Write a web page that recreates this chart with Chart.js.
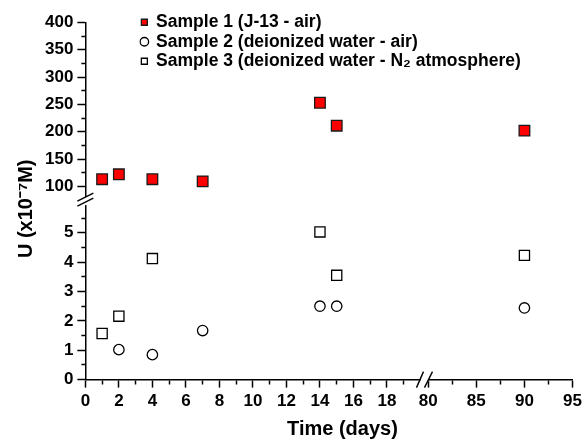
<!DOCTYPE html>
<html><head><meta charset="utf-8">
<script src="https://cdn.jsdelivr.net/npm/chart.js@4"></script>
<style>html,body{margin:0;padding:0;background:#fff}</style>
</head><body>
<canvas id="c" width="586" height="443"></canvas>
<script>
// ---- data ----
const days = [1, 2, 4, 7, 14, 15, 90];
const sample1 = [113, 122, 113, 109, 253, 211, 202];
const sample2 = [null, 1.02, 0.85, 1.67, 2.50, 2.50, 2.44];
const sample3 = [1.57, 2.16, 4.12, null, 5.03, 3.55, 4.23];
const seriesNames = ['Sample 1 (J-13 - air)', 'Sample 2 (deionized water - air)', 'Sample 3 (deionized water - N\u2082 atmosphere)'];
const xTicksLeft = [0,1,2,3,4,5,6,7,8,9,10,11,12,13,14,15,16,17,18,19];
const xMajorLeft = [0,2,4,6,8,10,12,14,16,18];
const xTicksRight = [80,82.5,85,87.5,90,92.5,95];
const xMajorRight = [80,85,90,95];
const yTicksLow = [0,0.5,1,1.5,2,2.5,3,3.5,4,4.5,5,5.5];
const yMajorLow = [0,1,2,3,4,5];
const yTicksHigh = [100,125,150,175,200,225,250,275,300,325,350,375,400];
const yMajorHigh = [100,150,200,250,300,350,400];
const xTitle = 'Time (days)';
const yTitle = 'U (x10\u207B\u2077M)';
const breakDay = 50;

Chart.defaults.font.family = "'Liberation Sans', Arial, sans-serif";
Chart.defaults.font.weight = 'bold';
Chart.defaults.color = '#000';

function pts(vals, right) {
  return days.map((d, i) => ({x: d, y: vals[i]}))
    .filter(p => p.y !== null && (right ? p.x > breakDay : p.x < breakDay));
}

function tickAxis(axis, position, stack, stackWeight, min, max, ticks, major) {
  const isMajor = v => major.some(m => Math.abs(m - v) < 1e-9);
  return {
    type: 'linear', axis, position, stack, stackWeight, weight: 0, min, max,
    afterBuildTicks: s => { s.ticks = ticks.map(v => ({value: v})); },
    ticks: {
      autoSkip: false, maxRotation: 0, minRotation: 0, padding: 4, color: '#000',
      font: {size: 17, weight: 'bold'},
      callback: v => isMajor(v) ? String(v) : ''
    },
    grid: {
      drawOnChartArea: false, drawTicks: true, tickLength: 8, tickWidth: 1.5, tickColor: '#000',
      tickBorderDash: ctx => (ctx.tick && isMajor(ctx.tick.value)) ? [] : (axis === 'y' ? [0, 4, 4, 100] : [4, 100])
    },
    border: {display: true, color: '#000', width: 1.5}
  };
}

function titleAxis(axis, position, stack, stackWeight, text, pad) {
  return {
    type: 'linear', axis, position, stack, stackWeight, weight: 10,
    ticks: {display: false},
    grid: {display: false, drawTicks: false, drawOnChartArea: false},
    border: {display: false},
    title: {display: !!text, text: text || '', color: '#000', font: {size: 20, weight: 'bold'}, padding: pad}
  };
}

const styles = [
  {pointStyle: 'rect', pointRadius: 7.5, backgroundColor: '#ff0000', borderColor: '#1a1a1a', borderWidth: 1.3},
  {pointStyle: 'circle', pointRadius: 5.2, backgroundColor: '#ffffff', borderColor: '#000000', borderWidth: 1.3},
  {pointStyle: 'rect', pointRadius: 7.2, backgroundColor: '#ffffff', borderColor: '#000000', borderWidth: 1.3}
];
const values = [sample1, sample2, sample3];
const yIds = ['yHigh', 'yLow', 'yLow'];

const datasets = [];
[false, true].forEach(right => {
  values.forEach((vals, k) => {
    datasets.push(Object.assign({
      label: seriesNames[k],
      data: pts(vals, right),
      xAxisID: right ? 'xRight' : 'xLeft',
      yAxisID: yIds[k],
      showLine: false,
      pointHoverRadius: styles[k].pointRadius
    }, styles[k]));
  });
});

const legendShift = {
  id: 'legendShift',
  afterLayout(chart) {
    const lg = chart.legend, ca = chart.chartArea;
    const w = lg.width, h = lg.height;
    lg.left = ca.left + 54; lg.right = lg.left + w;
    lg.top = ca.top - 11; lg.bottom = lg.top + h;
  }
};

const axisBreaks = {
  id: 'axisBreaks',
  afterDraw(chart) {
    const ctx = chart.ctx, ca = chart.chartArea;
    const jy = chart.scales.yLow.top;
    const jx = chart.scales.xLeft.right + 4;
    const L = ca.left, B = ca.bottom;
    ctx.save();
    ctx.fillStyle = '#fff';
    ctx.fillRect(L - 2, jy - 4, 4, 8);
    ctx.fillRect(jx - 4, B - 2, 8, 4);
    ctx.strokeStyle = '#000';
    ctx.lineWidth = 1.4;
    ctx.beginPath();
    ctx.moveTo(L - 8, jy + 5); ctx.lineTo(L + 8, jy - 3);
    ctx.moveTo(L - 8, jy);     ctx.lineTo(L + 8, jy - 8);
    ctx.moveTo(jx - 8, B + 8); ctx.lineTo(jx - 1, B - 8);
    ctx.moveTo(jx,     B + 8); ctx.lineTo(jx + 8, B - 8);
    ctx.stroke();
    ctx.restore();
  }
};

new Chart(document.getElementById('c'), {
  type: 'scatter',
  data: {datasets},
  options: {
    responsive: false,
    animation: false,
    devicePixelRatio: 1,
    layout: {padding: {left: 10, right: 5, top: 22.5, bottom: 0}},
    plugins: {
      legend: {
        display: true, position: 'chartArea', align: 'start',
        labels: {
          usePointStyle: true, boxWidth: 6, boxHeight: 6, padding: 2, color: '#000',
          font: {size: 17.5, weight: 'bold'},
          filter: item => item.datasetIndex < 3
        }
      },
      tooltip: {enabled: false}
    },
    scales: {
      yLow: tickAxis('y', 'left', 'ystack', 1, 0, 6.08, yTicksLow, yMajorLow),
      yHigh: tickAxis('y', 'left', 'ystack', 1, 73, 400, yTicksHigh, yMajorHigh),
      yTitleB: titleAxis('y', 'left', 'ytitle', 0.9565, yTitle, {top: 4, bottom: 3}),
      yTitleA: titleAxis('y', 'left', 'ytitle', 0.0435, '', {top: 4, bottom: 3}),
      xLeft: tickAxis('x', 'bottom', 'xstack', 335, 0, 20, xTicksLeft, xMajorLeft),
      xRight: tickAxis('x', 'bottom', 'xstack', 152, 79.2, 95, xTicksRight, xMajorRight),
      xTitleA: titleAxis('x', 'bottom', 'xtitle', 0.0554, '', {top: 1, bottom: 2}),
      xTitleB: titleAxis('x', 'bottom', 'xtitle', 0.9446, xTitle, {top: 1, bottom: 2})
    }
  },
  plugins: [legendShift, axisBreaks]
});
</script>
</body></html>
